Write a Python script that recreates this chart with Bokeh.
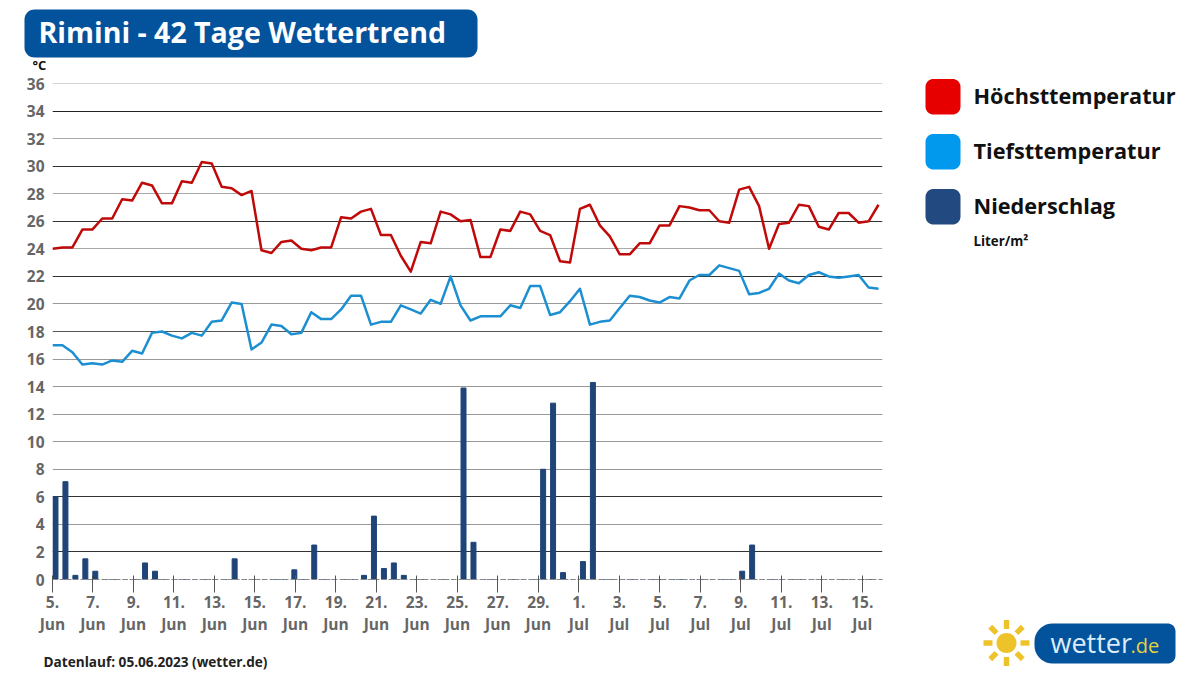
from bokeh.embed import file_html
from bokeh.resources import INLINE
from bokeh.plotting import figure
from bokeh.layouts import column, row
from bokeh.models import LinearAxis, FixedTicker, Range1d
from bokeh.core.properties import value
import numpy as np

title = "Rimini - 42 Tage Wettertrend"
footer = "Datenlauf: 05.06.2023 (wetter.de)"
unit = "°C"
series_names = ["Höchsttemperatur", "Tiefsttemperatur", "Niederschlag"]
series_colors = ["#e60000", "#0099ee", "#234a80"]
rain_unit = "Liter/m²"

high = [24.0,24.1,24.1,25.4,25.4,26.2,26.2,27.6,27.5,28.8,28.6,27.3,27.3,28.9,28.8,30.3,30.2,28.5,28.4,27.9,28.2,
        23.9,23.7,24.5,24.6,24.0,23.9,24.1,24.1,26.3,26.2,26.7,26.9,25.0,25.0,23.5,22.35,24.5,24.4,26.7,26.5,26.0,
        26.1,23.4,23.4,25.4,25.3,26.7,26.5,25.3,25.0,23.1,23.0,26.9,27.2,25.7,24.9,23.6,23.6,24.4,24.4,25.7,25.7,
        27.1,27.0,26.8,26.8,26.0,25.9,28.3,28.5,27.1,24.0,25.8,25.9,27.2,27.1,25.6,25.4,26.6,26.6,25.9,26.0,27.2]
low = [17.0,17.0,16.5,15.6,15.7,15.6,15.9,15.8,16.6,16.4,17.9,18.0,17.7,17.5,17.9,17.7,18.7,18.8,20.1,20.0,16.7,
       17.2,18.5,18.4,17.8,17.9,19.4,18.9,18.9,19.6,20.6,20.6,18.5,18.7,18.7,19.9,19.6,19.3,20.3,20.0,22.0,19.9,
       18.8,19.1,19.1,19.1,19.9,19.7,21.3,21.3,19.2,19.4,20.2,21.1,18.5,18.7,18.8,19.7,20.6,20.5,20.25,20.1,20.5,
       20.4,21.7,22.1,22.1,22.8,22.6,22.4,20.7,20.8,21.1,22.2,21.7,21.5,22.1,22.3,22.0,21.9,22.0,22.1,21.2,21.1]
rain = [6.0,7.1,0.3,1.5,0.6,0,0,0,0,1.2,0.6,0,0,0,0,0,0,0,1.5,0,0,0,0,0,0.7,0,2.5,0,0,0,0,0.3,4.6,0.8,1.2,0.3,
        0,0,0,0,0,13.9,2.7,0,0,0,0,0,0,8.0,12.8,0.5,0,1.3,14.3,0,0,0,0,0,0,0,0,0,0,0,0,0,0,0.6,2.5,0,0,0,0,0,0,0,0,0,0,0,0,0]

tick_days = list(range(0, 41, 2))
tick_labels = ["5.\nJun","7.\nJun","9.\nJun","11.\nJun","13.\nJun","15.\nJun","17.\nJun","19.\nJun","21.\nJun",
               "23.\nJun","25.\nJun","27.\nJun","29.\nJun","1.\nJul","3.\nJul","5.\nJul","7.\nJul","9.\nJul",
               "11.\nJul","13.\nJul","15.\nJul"]
y_ticks = list(range(0, 37, 2))
grid_values = y_ticks[1:]
grid_colors = ["#333","#999","#333","#999","#999","#999","#999","#999","#555","#999",
               "#333","#aaa","#333","#aaa","#333","#aaa","#222","#aaa"]

# ---- main chart (page y 73..645, x 0..890)
p = figure(width=890, height=572, output_backend="svg", toolbar_location=None,
           x_range=Range1d(0, 83.4), y_range=Range1d(0, 36), x_axis_location=None,
           min_border_left=52, min_border_right=8, min_border_top=10, min_border_bottom=66,
           outline_line_color=None, background_fill_color="white")
p.extra_x_ranges = {"days": Range1d(0, 41)}
p.xgrid.visible = False
p.ygrid.visible = False
p.frame_align = False

p.hspan(y=grid_values, line_color=grid_colors, line_width=1.2, level="underlay")

ax = LinearAxis(x_range_name="days", ticker=FixedTicker(ticks=tick_days))
ax.major_label_overrides = {d: s for d, s in zip(tick_days, tick_labels)}
ax.major_label_text_font = "Open Sans"
ax.major_label_text_font_style = "bold"
ax.major_label_text_font_size = "15.5px"
ax.major_label_text_color = "#666666"
ax.major_label_text_line_height = 1.0
ax.major_tick_in = 4
ax.major_tick_out = 13
ax.major_tick_line_color = "#555555"
ax.minor_tick_line_color = None
ax.axis_line_color = "#888888"
ax.axis_line_dash = [5, 2]
ax.major_label_standoff = -2
p.add_layout(ax, "below")

ya = p.yaxis[0]
ya.ticker = FixedTicker(ticks=y_ticks)
ya.axis_line_color = None
ya.major_tick_line_color = None
ya.minor_tick_line_color = None
ya.major_label_standoff = 2
ya.major_label_text_font = "Open Sans"
ya.major_label_text_font_style = "bold"
ya.major_label_text_font_size = "15.5px"
ya.major_label_text_color = "#666666"

idx = np.arange(len(high))
p.vbar(x=idx + 0.3, top=rain, bottom=0, width=0.5, color="#1f4477")
p.line(idx, high, line_color="#c00a0a", line_width=2.5, line_join="round")
p.line(idx, low, line_color="#1c8fd2", line_width=2.5, line_join="round")

# ---- decoration panels: their data coordinates are page pixels
def panel(x0, y0, w, h):
    f = figure(width=w, height=h, output_backend="svg", toolbar_location=None,
               x_range=Range1d(x0, x0 + w), y_range=Range1d(y0 + h, y0),
               x_axis_location=None, y_axis_location=None, min_border=0,
               outline_line_color=None, background_fill_color="white")
    f.xgrid.visible = False
    f.ygrid.visible = False
    f.frame_align = False
    return f

def rrect(f, l, t, r, b, color, rad):
    tl, tr, br, bl = rad if isinstance(rad, tuple) else (rad,) * 4
    xs, ys = [], []
    for cx, cy, rr, a0 in [(r - tr, t + tr, tr, -90), (r - br, b - br, br, 0),
                           (l + bl, b - bl, bl, 90), (l + tl, t + tl, tl, 180)]:
        for a in np.radians(np.linspace(a0, a0 + 90, 10)):
            xs.append(cx + rr * np.cos(a))
            ys.append(cy + rr * np.sin(a))
    f.patch(xs, ys, fill_color=color, line_color=None)

def label(f, x, y, s, size, color="#111111", style="bold"):
    f.text([x], [y], text=[s], text_font=value("Open Sans"), text_font_size=f"{size}px", text_font_style=style,
           text_color=color, text_align="left", text_baseline="middle")

head = panel(0, 0, 1190, 73)
rrect(head, 24, 9, 477, 57, "#03529c", 10)
label(head, 38, 31.5, title, 28.5, "#ffffff")
label(head, 32, 64.5, unit, 13)

foot = panel(0, 645, 890, 25)
label(foot, 43, 660.5, footer, 13.6, "#222222")

side = panel(890, 73, 300, 597)
for i, (name, col) in enumerate(zip(series_names, series_colors)):
    top = 78.5 + i * 55
    rrect(side, 925, top, 960, top + 35.5, col, 8)
    label(side, 973, top + 16, name, 21.7)
label(side, 973, 240, rain_unit, 13.3)

sun = "#eec32a"
cx, cy = 1006, 642.5
rrect(side, cx - 10, cy - 10, cx + 10, cy + 10, sun, 10)
for ang in range(0, 360, 45):
    a = np.radians(ang)
    ca, sa = np.cos(a), np.sin(a)
    w, r0, r1 = 2.7, 14, 23
    side.patch([cx + r0 * ca - w * sa, cx + r1 * ca - w * sa, cx + r1 * ca + w * sa, cx + r0 * ca + w * sa],
               [cy + r0 * sa + w * ca, cy + r1 * sa + w * ca, cy + r1 * sa - w * ca, cy + r0 * sa - w * ca],
               fill_color=sun, line_color=None)
rrect(side, 1034, 623, 1175, 663, "#03529c", (18, 8, 8, 18))
label(side, 1050, 642, "wetter", 27, "#dcecf8", "normal")
label(side, 1130, 645, ".de", 20, "#e6d33a", "normal")

page = column(head, row(column(p, row(foot, spacing=0), spacing=0), side, spacing=0), spacing=0)
open("out.html", "w").write(file_html(page, INLINE))
